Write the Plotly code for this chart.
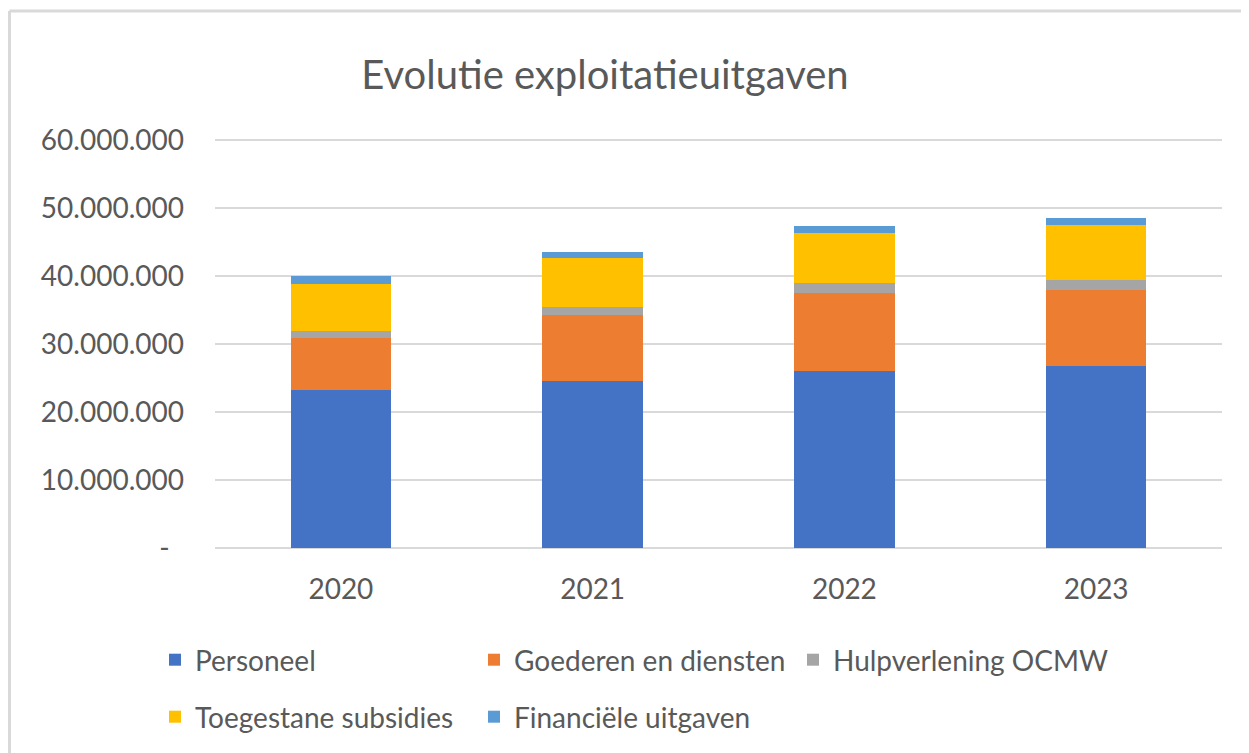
import plotly.graph_objects as go

# data (euro)
years = ["2020", "2021", "2022", "2023"]
personeel = [23300000, 24500000, 26000000, 26700000]
goederen = [7600000, 9800000, 11500000, 11300000]
hulpverlening = [1000000, 1180000, 1470000, 1470000]
subsidies = [7000000, 7160000, 7350000, 8040000]
financieel = [1070000, 930000, 1030000, 980000]

y_ticks = [0, 10000000, 20000000, 30000000, 40000000, 50000000, 60000000]
y_labels = ["-\u00a0\u00a0", "10.000.000", "20.000.000", "30.000.000",
            "40.000.000", "50.000.000", "60.000.000"]

series = [
    ("Personeel", personeel, "#4472C4", "legend"),
    ("Goederen en diensten", goederen, "#ED7D31", "legend"),
    ("Hulpverlening OCMW", hulpverlening, "#A5A5A5", "legend"),
    ("Toegestane subsidies", subsidies, "#FFC000", "legend2"),
    ("Financiële uitgaven", financieel, "#5B9BD5", "legend2"),
]

TXT = "#595959"
FONT = "Lato"
FS = 28

fig = go.Figure()
for name, vals, col, leg in series:
    fig.add_trace(go.Bar(x=years, y=vals, name=name, marker_color=col,
                         marker_line_width=0, width=0.4, legend=leg))

# page body adds an 8px offset, so the figure is 8px smaller than the window
OFF = 8
W, H = 1249 - OFF, 753 - OFF
# plot area (reference pixels): x 215..1222, y 140..548 for 0..60M
# range goes a bit above 60M so the top gridline is drawn
YMAX = 60600000
extra = 408 * (YMAX - 60000000) / 60000000
L, T = 215 - OFF, round(140 - OFF - extra)
R, B = W - (1222 - OFF), H - (548 - OFF)
pw, ph = W - L - R, H - T - B


def px(x):
    return (x - OFF - L) / pw


def py(y):
    return (H - B - (y - OFF)) / ph


grid = "#D9D9D9"
fig.update_layout(
    width=W, height=H,
    margin=dict(l=L, r=R, t=T, b=B),
    paper_bgcolor="white", plot_bgcolor="white",
    barmode="stack",
    font=dict(family=FONT, color=TXT, size=FS),
    title=dict(text="Evolutie exploitatieuitgaven", xref="container",
               x=(605 - OFF) / W, xanchor="center",
               yref="container", y=1 - (75 - OFF) / H, yanchor="middle",
               font=dict(size=40, color=TXT, family=FONT)),
    xaxis=dict(showgrid=False, showline=False, ticks="", ticklabelstandoff=22,
               tickfont=dict(size=FS, color=TXT)),
    yaxis=dict(range=[0, YMAX], tickvals=y_ticks, ticktext=y_labels,
               showgrid=True, gridcolor=grid, gridwidth=2,
               zeroline=True, zerolinecolor=grid, zerolinewidth=2,
               showline=False, ticklabelstandoff=30,
               tickfont=dict(size=FS, color=TXT)),
    legend=dict(orientation="h", xref="container", yref="container",
                x=(155 - OFF) / W, y=1 - (660 - OFF) / H,
                xanchor="left", yanchor="middle",
                entrywidth=274, traceorder="normal",
                font=dict(size=FS, color=TXT, family=FONT)),
    legend2=dict(orientation="h", xref="container", yref="container",
                 x=(155 - OFF) / W, y=1 - (717 - OFF) / H,
                 xanchor="left", yanchor="middle",
                 entrywidth=274, traceorder="normal",
                 font=dict(size=FS, color=TXT, family=FONT)),
    shapes=[
        dict(type="line", xref="paper", yref="paper", x0=px(9.5), x1=px(1249),
             y0=py(11), y1=py(11), line=dict(color=grid, width=3)),
        dict(type="line", xref="paper", yref="paper", x0=px(9.5), x1=px(9.5),
             y0=py(11), y1=py(753), line=dict(color=grid, width=3)),
    ],
)

fig.write_html("out.html")
